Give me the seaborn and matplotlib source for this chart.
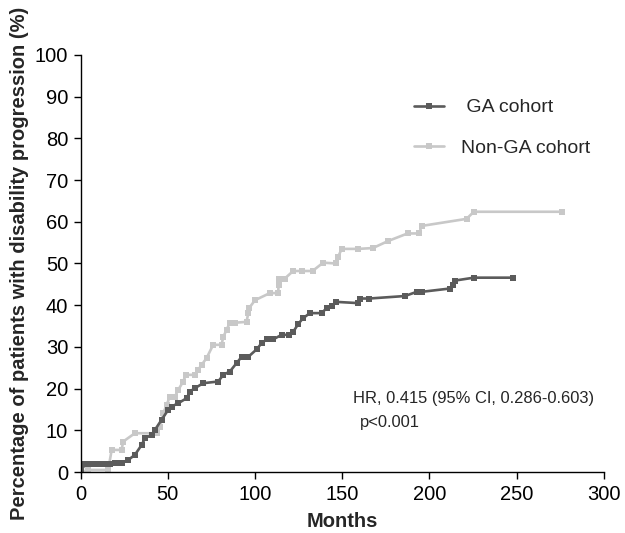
import pandas as pd
import matplotlib
matplotlib.use("Agg")
import matplotlib.pyplot as plt
import seaborn as sns

# values (months, % with progression)
ga_months = [0, 2.5, 4.5, 7, 9.5, 12, 14.5, 17, 19.5, 21.5, 23.5, 27.3, 31.1, 35, 36.9,
             40.7, 42.6, 46.4, 50.2, 52.2, 56, 60.8, 62.7, 65.5, 70.3, 78.9, 81.8,
             85.6, 89.4, 92.3, 96.1, 100.9, 103.8, 106.7, 110.4, 115.3, 119.6, 121.9,
             124.8, 127.6, 131.5, 138.2, 141.1, 143.9, 146.4, 159.2, 160.2, 165.5,
             186, 192.7, 195.5, 211.8, 213.7, 214.6, 225.5, 247.7]
ga_pct = [0, 1.9, 2.0, 2.0, 2.0, 2.0, 2.0, 2.0, 2.1, 2.1, 2.2, 2.9, 4.1, 6.5, 8.1,
          8.9, 10.1, 12.5, 14.9, 15.7, 16.5, 17.7, 19.3, 20.1, 21.3, 21.7, 23.3,
          24.1, 26.1, 27.6, 27.6, 29.4, 30.9, 31.8, 31.8, 32.9, 32.9, 33.6,
          35.5, 36.9, 38.1, 38.1, 39.3, 39.8, 40.8, 40.5, 41.6, 41.6,
          42.2, 43.2, 43.2, 44.0, 44.8, 45.9, 46.6, 46.6]

nonga_months = [0, 4.4, 15.8, 17.8, 23.5, 24.4, 31.1, 43.6, 45.5, 47.4, 49.3, 51.2,
                54.1, 56, 58.8, 60.4, 65.5, 67.4, 69.4, 72.2, 76, 80.8, 81.8, 83.7,
                85.6, 88.5, 95.2, 96.1, 96.6, 100, 108.5, 113.3, 113.5, 113.8, 117.1,
                121.9, 126.7, 133, 139.1, 146.4, 147.7, 149.7, 159.2, 167.6, 176.4,
                187.5, 194.2, 195.5, 221.3, 225.5, 275.8]
nonga_pct = [0, 0.5, 0.5, 5.3, 5.3, 7.3, 9.3, 9.3, 10.9, 14.1, 16.1, 18.1,
             18.1, 19.7, 21.7, 23.3, 23.3, 24.5, 25.7, 27.3, 30.5, 30.5, 32.4, 34.1,
             35.8, 35.8, 36.0, 38.1, 39.3, 41.2, 42.9, 42.9, 44.8, 46.4, 46.4,
             48.2, 48.2, 48.2, 50.2, 50.0, 51.6, 53.5, 53.5, 53.7, 55.4,
             57.2, 57.2, 59.0, 60.7, 62.4, 62.4]

x_ticks = [0, 50, 100, 150, 200, 250, 300]
y_ticks = [0, 10, 20, 30, 40, 50, 60, 70, 80, 90, 100]

ga = pd.DataFrame({"Months": ga_months, "pct": ga_pct})
nonga = pd.DataFrame({"Months": nonga_months, "pct": nonga_pct})

sns.set_style("ticks")
plt.rcParams["font.family"] = ["Liberation Sans", "DejaVu Sans"]

fig = plt.figure(figsize=(6.25, 5.33), dpi=100)
ax = fig.add_axes([0.129, 0.1144, 0.837, 0.7825])

sns.lineplot(x="Months", y="pct", data=nonga, sort=False, estimator=None, ax=ax,
             color="#c8c8c8", linewidth=1.9, marker="s", markersize=3.8,
             markeredgewidth=0, label="Non-GA cohort")
sns.lineplot(x="Months", y="pct", data=ga, sort=False, estimator=None, ax=ax,
             color="#5b5b5b", linewidth=1.9, marker="s", markersize=3.8,
             markeredgewidth=0, label=" GA cohort")

ax.set_xlim(0, 300)
ax.set_ylim(0, 100)
ax.set_xticks(x_ticks)
ax.set_yticks(y_ticks)
ax.tick_params(axis="both", labelsize=14.5, length=5, width=1, direction="out",
               color="black", labelcolor="black", pad=4)
for s in ["left", "bottom"]:
    ax.spines[s].set_color("black")
    ax.spines[s].set_linewidth(1)
sns.despine(ax=ax)

ax.set_xlabel("Months", fontsize=14.5, fontweight="bold", labelpad=6)
ax.set_ylabel("Percentage of patients with disability progression (%)",
              fontsize=14.5, fontweight="bold", labelpad=4)

h, l = ax.get_legend_handles_labels()
ax.legend([h[1], h[0]], [l[1], l[0]], loc="upper left", bbox_to_anchor=(0.637, 0.895),
          frameon=False, fontsize=14, handlelength=1.55, handletextpad=0.9,
          labelspacing=1.2, borderpad=0, borderaxespad=0)

ax.text(0.52, 0.177, "HR, 0.415 (95% CI, 0.286-0.603)", transform=ax.transAxes,
        fontsize=11.9, va="center", ha="left")
ax.text(0.534, 0.118, "p<0.001", transform=ax.transAxes,
        fontsize=11.9, va="center", ha="left")

fig.savefig("out.png", dpi=100)
